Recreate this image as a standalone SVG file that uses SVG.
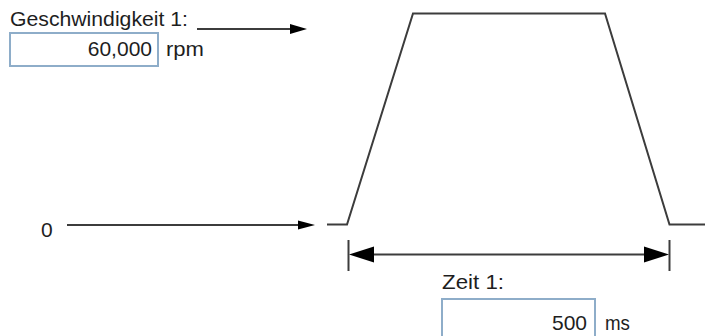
<svg xmlns="http://www.w3.org/2000/svg" width="705" height="336" viewBox="0 0 705 336">
<style>
.t{font-family:"Liberation Sans",Arial,sans-serif;font-size:21px;fill:#1e1e1e}
.box{fill:#fff;stroke:#8eadc9;stroke-width:2}
.ln{fill:none;stroke:#3c3c3c;stroke-width:2}
.ah{fill:#000}
</style>
<rect width="705" height="336" fill="#fff"/>
<g id="label-speed">
<text class="t" x="10" y="26" textLength="178" lengthAdjust="spacingAndGlyphs">Geschwindigkeit 1:</text>
</g>
<g id="input-speed">
<rect class="box" x="10" y="33" width="148" height="33"/>
<text class="t" x="152" y="56" text-anchor="end">60,000</text>
<text class="t" x="166" y="56" textLength="38" lengthAdjust="spacingAndGlyphs">rpm</text>
</g>
<g id="label-zero">
<text class="t" x="41" y="237">0</text>
</g>
<g id="label-time">
<text class="t" x="442" y="289" textLength="62" lengthAdjust="spacingAndGlyphs">Zeit 1:</text>
</g>
<g id="input-time">
<rect class="box" x="442" y="299" width="153" height="45"/>
<text class="t" x="587" y="330" text-anchor="end">500</text>
<text class="t" x="605" y="330" textLength="25" lengthAdjust="spacingAndGlyphs">ms</text>
</g>
<g id="profile">
<polyline class="ln" points="327,224.5 347,224.5 413,13.5 605,13.5 669.5,224.5 705,224.5"/>
</g>
<g id="connectors">
<line class="ln" x1="197" y1="29" x2="292" y2="29"/>
<polygon class="ah" points="290,24 307,29 290,34"/>
<line class="ln" x1="67" y1="225" x2="300" y2="225"/>
<polygon class="ah" points="298,220.5 315,225 298,229.5"/>
<line class="ln" x1="348.5" y1="240" x2="348.5" y2="271"/>
<line class="ln" x1="669.5" y1="240" x2="669.5" y2="271"/>
<line class="ln" x1="370" y1="254.5" x2="648" y2="254.5"/>
<polygon class="ah" points="349,254.5 374,246.5 374,262.5"/>
<polygon class="ah" points="669,254.5 644,246.5 644,262.5"/>
</g>
</svg>
